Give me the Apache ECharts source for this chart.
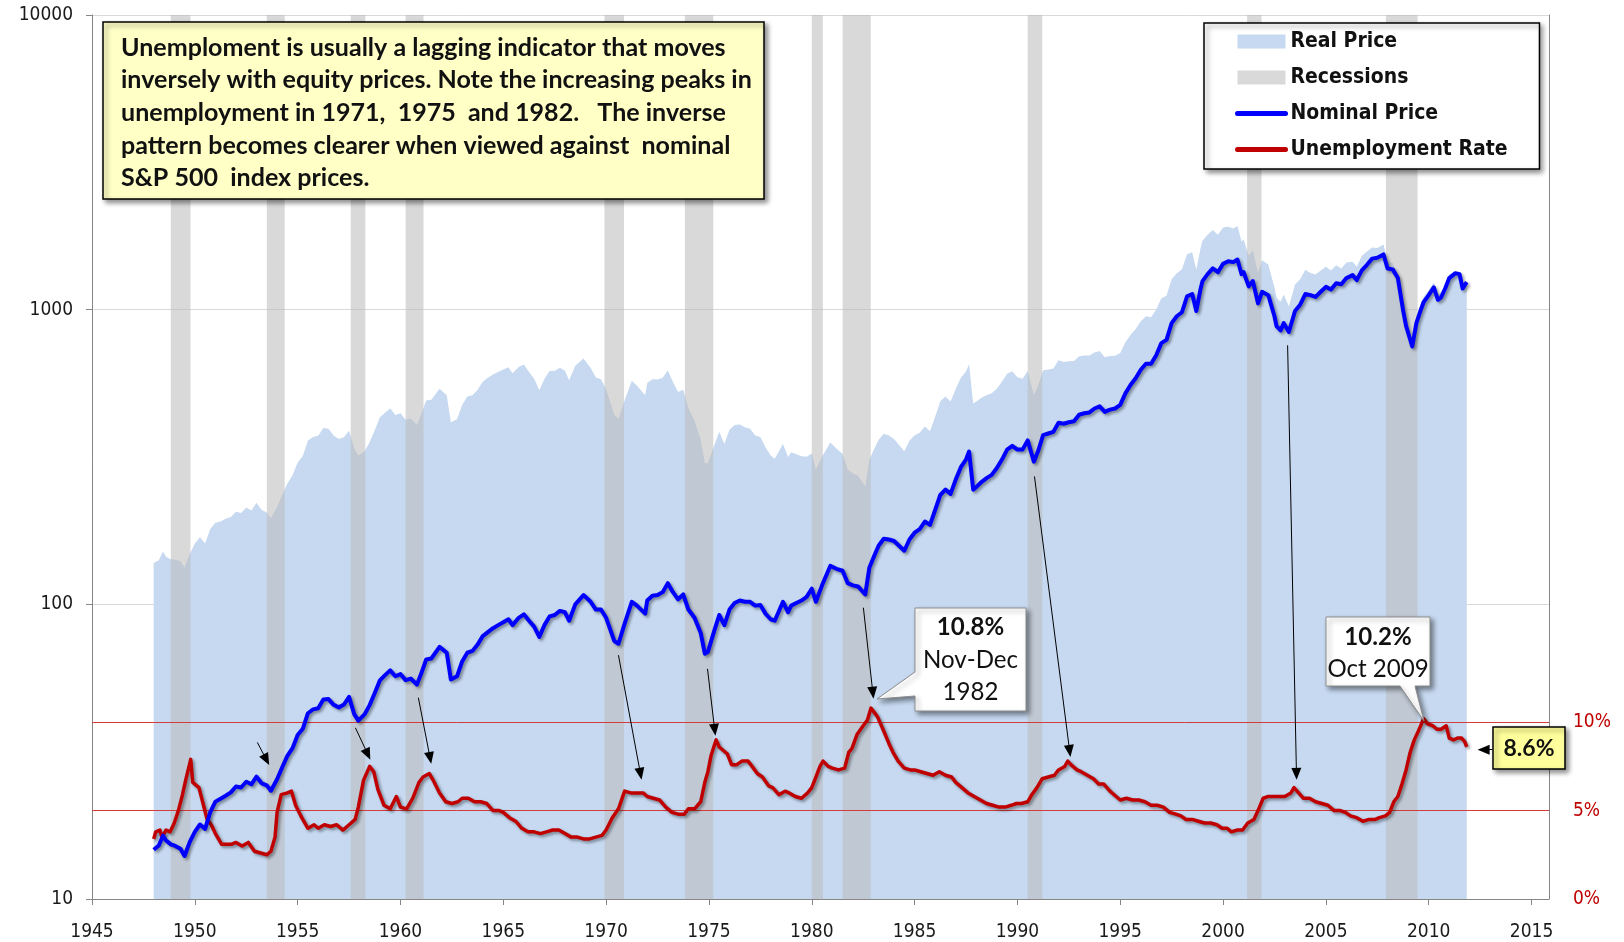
<!DOCTYPE html>
<html><head><meta charset="utf-8">
<script src="https://cdn.jsdelivr.net/npm/echarts@6/dist/echarts.min.js"></script>
<style>html,body{margin:0;padding:0;background:#fff}#c{width:1624px;height:942px}</style>
</head><body><div id="c"></div>
<script>
// ---------------- data ----------------
const xTickYears = [1945,1950,1955,1960,1965,1970,1975,1980,1985,1990,1995,2000,2005,2010,2015];
const unempTickValues = [0,5,10];
const unempGuideLines = [5,10];

const recessions = [[1948.83,1949.79],[1953.5,1954.37],[1957.58,1958.29],[1960.25,1961.12],[1969.92,1970.87],
  [1973.83,1975.21],[1980.0,1980.54],[1981.5,1982.87],[1990.5,1991.21],[2001.17,2001.87],[2007.92,2009.46]];

const nominalPrice = [[1948.0,14.7],[1948.25,15.2],[1948.45,16.4],[1948.6,15.8],[1948.85,15.3],[1949.0,15.2],[1949.3,14.8],[1949.5,14.0],[1949.75,15.6],[1950.0,16.9],[1950.25,17.9],[1950.5,17.3],[1950.75,19.7],[1951.0,21.4],[1951.25,21.9],[1951.5,22.4],[1951.75,23.0],[1952.0,24.1],[1952.25,23.9],[1952.5,25.0],[1952.75,24.5],[1953.0,26.0],[1953.25,24.7],[1953.5,24.3],[1953.7,23.3],[1954.0,25.5],[1954.25,28.0],[1954.5,30.6],[1954.75,32.5],[1955.0,36.0],[1955.25,37.8],[1955.5,42.7],[1955.75,44.0],[1956.0,44.4],[1956.25,47.5],[1956.5,47.7],[1956.75,45.6],[1957.0,44.7],[1957.25,45.7],[1957.5,48.5],[1957.75,42.4],[1957.95,40.3],[1958.25,42.3],[1958.5,45.5],[1958.75,50.0],[1959.0,55.2],[1959.25,57.5],[1959.5,59.7],[1959.75,57.0],[1960.0,58.0],[1960.25,55.3],[1960.5,56.0],[1960.8,53.4],[1961.0,58.0],[1961.25,65.0],[1961.5,65.5],[1961.9,71.7],[1962.25,68.5],[1962.45,55.6],[1962.75,57.0],[1963.0,64.0],[1963.25,68.5],[1963.5,69.5],[1963.75,73.0],[1964.0,78.0],[1964.25,80.5],[1964.5,83.0],[1964.75,85.0],[1965.0,87.0],[1965.25,89.0],[1965.45,85.0],[1965.75,90.0],[1966.0,92.5],[1966.25,88.0],[1966.5,84.0],[1966.75,77.5],[1967.0,85.0],[1967.25,91.0],[1967.5,92.0],[1967.75,95.0],[1968.0,94.0],[1968.2,88.0],[1968.5,100.0],[1968.9,107.5],[1969.25,102.0],[1969.5,96.0],[1969.75,96.0],[1970.0,90.0],[1970.4,75.0],[1970.6,73.5],[1970.9,86.0],[1971.25,102.0],[1971.5,99.0],[1971.9,93.0],[1972.0,103.0],[1972.25,107.0],[1972.5,107.5],[1972.75,110.0],[1973.0,118.0],[1973.25,110.0],[1973.5,104.0],[1973.75,108.0],[1974.0,96.0],[1974.3,90.0],[1974.6,80.0],[1974.8,68.0],[1974.95,69.0],[1975.25,81.0],[1975.5,92.0],[1975.75,85.0],[1976.0,96.0],[1976.25,101.0],[1976.5,103.0],[1976.75,102.0],[1977.0,102.0],[1977.25,99.0],[1977.5,99.5],[1977.75,93.0],[1978.0,89.0],[1978.2,88.0],[1978.6,102.0],[1978.85,94.0],[1979.0,99.0],[1979.25,101.0],[1979.5,103.0],[1979.75,106.0],[1980.0,113.0],[1980.2,102.0],[1980.5,116.0],[1980.9,135.0],[1981.2,132.0],[1981.5,130.0],[1981.75,118.0],[1982.0,116.0],[1982.25,115.0],[1982.6,108.0],[1982.8,133.0],[1983.0,144.0],[1983.25,158.0],[1983.5,167.0],[1983.75,166.0],[1984.0,164.0],[1984.5,152.0],[1984.75,166.0],[1985.0,175.0],[1985.25,180.0],[1985.5,191.0],[1985.75,186.0],[1986.0,209.0],[1986.25,235.0],[1986.5,245.0],[1986.75,237.0],[1987.0,265.0],[1987.25,292.0],[1987.5,310.0],[1987.65,330.0],[1987.85,245.0],[1988.0,250.0],[1988.25,260.0],[1988.5,268.0],[1988.75,275.0],[1989.0,290.0],[1989.25,310.0],[1989.5,335.0],[1989.75,345.0],[1990.0,335.0],[1990.25,335.0],[1990.5,360.0],[1990.8,305.0],[1991.0,330.0],[1991.25,375.0],[1991.5,380.0],[1991.75,385.0],[1992.0,413.0],[1992.25,410.0],[1992.5,415.0],[1992.75,418.0],[1993.0,440.0],[1993.25,445.0],[1993.5,448.0],[1993.75,462.0],[1994.0,470.0],[1994.25,450.0],[1994.5,458.0],[1994.75,462.0],[1995.0,475.0],[1995.25,520.0],[1995.5,555.0],[1995.75,585.0],[1996.0,625.0],[1996.25,655.0],[1996.5,655.0],[1996.75,700.0],[1997.0,770.0],[1997.25,790.0],[1997.5,900.0],[1997.75,950.0],[1998.0,980.0],[1998.25,1110],[1998.5,1130],[1998.7,990],[1998.9,1170],[1999.0,1250],[1999.25,1320],[1999.5,1380],[1999.75,1340],[2000.0,1430],[2000.25,1460],[2000.5,1450],[2000.7,1480],[2000.9,1320],[2001.0,1340],[2001.25,1200],[2001.45,1250],[2001.7,1050],[2001.9,1150],[2002.2,1120],[2002.5,950],[2002.6,880],[2002.8,850],[2002.95,900],[2003.2,840],[2003.5,990],[2003.75,1040],[2004.0,1130],[2004.25,1120],[2004.5,1105],[2004.75,1150],[2005.0,1195],[2005.25,1170],[2005.5,1230],[2005.75,1220],[2006.0,1280],[2006.3,1310],[2006.5,1260],[2006.75,1360],[2007.0,1420],[2007.25,1490],[2007.5,1500],[2007.8,1540],[2008.0,1380],[2008.25,1370],[2008.5,1280],[2008.75,1000],[2008.9,880],[2009.2,750],[2009.4,900],[2009.6,990],[2009.75,1060],[2010.0,1120],[2010.25,1190],[2010.45,1080],[2010.6,1100],[2010.8,1180],[2011.0,1280],[2011.3,1330],[2011.5,1320],[2011.65,1180],[2011.85,1240]];

const realPrice = [[1948.0,138],[1948.25,141],[1948.45,151],[1948.6,145],[1948.85,142],[1949.0,142],[1949.3,140],[1949.5,133],[1949.75,148],[1950.0,161],[1950.25,169],[1950.5,161],[1950.75,180],[1951.0,189],[1951.25,191],[1951.5,195],[1951.75,198],[1952.0,206],[1952.25,204],[1952.5,213],[1952.75,208],[1953.0,221],[1953.25,209],[1953.5,205],[1953.7,196],[1954.0,214],[1954.25,235],[1954.5,257],[1954.75,274],[1955.0,303],[1955.25,319],[1955.5,360],[1955.75,370],[1956.0,373],[1956.25,397],[1956.5,394],[1956.75,374],[1957.0,364],[1957.25,369],[1957.5,388],[1957.75,338],[1957.95,320],[1958.25,330],[1958.5,355],[1958.75,390],[1959.0,431],[1959.25,447],[1959.5,463],[1959.75,439],[1960.0,445],[1960.25,423],[1960.5,427],[1960.8,406],[1961.0,440],[1961.25,492],[1961.5,495],[1961.9,539],[1962.25,512],[1962.45,415],[1962.75,425],[1963.0,475],[1963.25,507],[1963.5,512],[1963.75,535],[1964.0,569],[1964.25,587],[1964.5,603],[1964.75,615],[1965.0,626],[1965.25,638],[1965.45,608],[1965.75,639],[1966.0,652],[1966.25,614],[1966.5,583],[1966.75,533],[1967.0,582],[1967.25,619],[1967.5,620],[1967.75,635],[1968.0,620],[1968.2,576],[1968.5,645],[1968.9,683],[1969.25,634],[1969.5,588],[1969.75,581],[1970.0,537],[1970.4,439],[1970.6,426],[1970.9,492],[1971.25,574],[1971.5,552],[1971.9,512],[1972.0,564],[1972.25,581],[1972.5,579],[1972.75,587],[1973.0,622],[1973.25,568],[1973.5,526],[1973.75,535],[1974.0,463],[1974.3,419],[1974.6,362],[1974.8,301],[1974.95,301],[1975.25,345],[1975.5,385],[1975.75,350],[1976.0,391],[1976.25,406],[1976.5,408],[1976.75,399],[1977.0,394],[1977.25,374],[1977.5,370],[1977.75,341],[1978.0,320],[1978.2,312],[1978.6,350],[1978.85,316],[1979.0,328],[1979.25,323],[1979.5,318],[1979.75,317],[1980.0,325],[1980.2,286],[1980.5,317],[1980.9,354],[1981.2,338],[1981.5,324],[1981.75,287],[1982.0,278],[1982.25,273],[1982.6,251],[1982.8,309],[1983.0,333],[1983.25,362],[1983.5,379],[1983.75,374],[1984.0,364],[1984.5,331],[1984.75,359],[1985.0,375],[1985.25,382],[1985.5,401],[1985.75,387],[1986.0,433],[1986.25,489],[1986.5,507],[1986.75,488],[1987.0,538],[1987.25,587],[1987.5,617],[1987.65,653],[1987.85,480],[1988.0,488],[1988.25,502],[1988.5,512],[1988.75,520],[1989.0,539],[1989.25,570],[1989.5,606],[1989.75,618],[1990.0,590],[1990.25,583],[1990.5,619],[1990.8,512],[1991.0,551],[1991.25,623],[1991.5,627],[1991.75,631],[1992.0,673],[1992.25,664],[1992.5,668],[1992.75,669],[1993.0,695],[1993.25,699],[1993.5,699],[1993.75,716],[1994.0,724],[1994.25,689],[1994.5,696],[1994.75,698],[1995.0,713],[1995.25,775],[1995.5,821],[1995.75,860],[1996.0,913],[1996.25,950],[1996.5,943],[1996.75,1001],[1997.0,1093],[1997.25,1114],[1997.5,1269],[1997.75,1330],[1998.0,1372],[1998.25,1543],[1998.5,1565],[1998.7,1366],[1998.9,1609],[1999.0,1713],[1999.25,1795],[1999.5,1863],[1999.75,1796],[2000.0,1902],[2000.25,1913],[2000.5,1885],[2000.7,1924],[2000.9,1703],[2001.0,1729],[2001.25,1524],[2001.45,1588],[2001.7,1334],[2001.9,1472],[2002.2,1422],[2002.5,1188],[2002.6,1100],[2002.8,1063],[2002.95,1125],[2003.2,1025],[2003.5,1218],[2003.75,1269],[2004.0,1367],[2004.25,1333],[2004.5,1315],[2004.75,1357],[2005.0,1398],[2005.25,1357],[2005.5,1415],[2005.75,1379],[2006.0,1446],[2006.3,1454],[2006.5,1399],[2006.75,1523],[2007.0,1576],[2007.25,1624],[2007.5,1620],[2007.8,1663],[2008.0,1463],[2008.25,1439],[2008.5,1318],[2008.75,1050],[2008.9,950],[2009.2,795],[2009.4,945],[2009.6,1040],[2009.75,1102],[2010.0,1165],[2010.25,1238],[2010.45,1123],[2010.6,1144],[2010.8,1215],[2011.0,1318],[2011.3,1343],[2011.5,1320],[2011.65,1180],[2011.85,1240]];

const unemploymentRate = [[1948.0,3.4],[1948.1,3.8],[1948.3,3.9],[1948.4,3.5],[1948.6,3.9],[1948.8,3.8],[1949.0,4.3],[1949.2,5.0],[1949.4,5.9],[1949.55,6.7],[1949.8,7.9],[1949.9,6.6],[1950.0,6.5],[1950.2,6.3],[1950.4,5.4],[1950.6,4.5],[1950.8,4.2],[1951.0,3.7],[1951.3,3.1],[1951.5,3.1],[1951.8,3.1],[1952.0,3.2],[1952.3,3.0],[1952.6,3.2],[1952.9,2.7],[1953.2,2.6],[1953.5,2.5],[1953.7,2.7],[1953.9,3.5],[1954.0,4.9],[1954.2,5.9],[1954.5,6.0],[1954.7,6.1],[1954.9,5.3],[1955.2,4.6],[1955.5,4.0],[1955.8,4.2],[1956.0,4.0],[1956.3,4.2],[1956.6,4.1],[1956.9,4.2],[1957.2,3.9],[1957.5,4.2],[1957.8,4.5],[1957.95,5.2],[1958.2,6.7],[1958.5,7.5],[1958.7,7.2],[1958.9,6.2],[1959.2,5.3],[1959.5,5.1],[1959.8,5.8],[1960.0,5.2],[1960.3,5.1],[1960.6,5.7],[1960.9,6.6],[1961.1,6.9],[1961.4,7.1],[1961.6,6.7],[1961.9,6.0],[1962.2,5.5],[1962.5,5.4],[1962.8,5.5],[1963.0,5.7],[1963.3,5.7],[1963.6,5.5],[1963.9,5.5],[1964.2,5.4],[1964.5,5.0],[1964.8,5.0],[1965.0,4.9],[1965.3,4.6],[1965.6,4.4],[1965.9,4.0],[1966.2,3.8],[1966.5,3.8],[1966.8,3.7],[1967.1,3.8],[1967.4,3.9],[1967.7,3.9],[1968.0,3.7],[1968.3,3.5],[1968.6,3.5],[1968.9,3.4],[1969.2,3.4],[1969.5,3.5],[1969.8,3.6],[1970.0,3.9],[1970.3,4.6],[1970.6,5.1],[1970.9,6.1],[1971.2,6.0],[1971.5,6.0],[1971.8,6.0],[1972.0,5.8],[1972.3,5.7],[1972.6,5.6],[1972.9,5.2],[1973.2,4.9],[1973.5,4.8],[1973.8,4.8],[1974.0,5.1],[1974.3,5.1],[1974.6,5.5],[1974.8,6.6],[1974.95,7.2],[1975.1,8.1],[1975.35,9.0],[1975.5,8.6],[1975.7,8.4],[1975.9,8.2],[1976.1,7.6],[1976.35,7.6],[1976.6,7.8],[1976.9,7.8],[1977.1,7.5],[1977.35,7.1],[1977.6,6.9],[1977.9,6.4],[1978.1,6.3],[1978.4,5.9],[1978.7,6.1],[1978.9,6.0],[1979.2,5.8],[1979.5,5.7],[1979.8,6.0],[1980.0,6.3],[1980.2,6.9],[1980.4,7.5],[1980.55,7.8],[1980.8,7.5],[1981.0,7.4],[1981.3,7.3],[1981.6,7.4],[1981.8,8.3],[1981.95,8.5],[1982.2,9.3],[1982.5,9.8],[1982.7,10.1],[1982.88,10.8],[1982.95,10.8],[1983.2,10.3],[1983.5,9.5],[1983.75,8.8],[1983.95,8.3],[1984.2,7.8],[1984.5,7.4],[1984.8,7.3],[1985.0,7.3],[1985.3,7.2],[1985.6,7.1],[1985.9,7.0],[1986.2,7.2],[1986.5,7.0],[1986.8,6.9],[1987.0,6.6],[1987.3,6.3],[1987.6,6.0],[1987.9,5.8],[1988.2,5.6],[1988.5,5.4],[1988.8,5.3],[1989.1,5.2],[1989.4,5.2],[1989.7,5.3],[1989.95,5.4],[1990.2,5.4],[1990.5,5.5],[1990.7,5.9],[1990.95,6.3],[1991.2,6.8],[1991.5,6.9],[1991.8,7.0],[1992.0,7.3],[1992.3,7.5],[1992.45,7.8],[1992.6,7.6],[1992.9,7.3],[1993.1,7.2],[1993.4,7.0],[1993.7,6.8],[1993.95,6.5],[1994.2,6.5],[1994.5,6.1],[1994.8,5.8],[1995.0,5.6],[1995.3,5.7],[1995.6,5.6],[1995.9,5.6],[1996.2,5.5],[1996.5,5.3],[1996.8,5.3],[1997.1,5.2],[1997.4,4.9],[1997.7,4.8],[1997.95,4.7],[1998.2,4.5],[1998.5,4.5],[1998.8,4.4],[1999.1,4.3],[1999.4,4.3],[1999.7,4.2],[1999.95,4.0],[2000.2,4.0],[2000.4,3.8],[2000.7,3.9],[2000.95,3.9],[2001.2,4.3],[2001.5,4.5],[2001.7,5.0],[2001.95,5.7],[2002.2,5.8],[2002.5,5.8],[2002.8,5.8],[2003.0,5.8],[2003.3,6.0],[2003.45,6.3],[2003.6,6.1],[2003.9,5.7],[2004.2,5.7],[2004.5,5.5],[2004.8,5.4],[2005.1,5.3],[2005.4,5.0],[2005.7,5.0],[2005.95,4.9],[2006.2,4.7],[2006.5,4.6],[2006.8,4.4],[2007.1,4.5],[2007.4,4.5],[2007.6,4.6],[2007.9,4.7],[2008.1,4.9],[2008.3,5.5],[2008.5,5.8],[2008.7,6.5],[2008.9,7.3],[2009.1,8.3],[2009.3,9.0],[2009.5,9.5],[2009.75,10.2],[2009.95,9.9],[2010.2,9.8],[2010.4,9.6],[2010.6,9.6],[2010.85,9.8],[2011.0,9.1],[2011.2,9.0],[2011.4,9.1],[2011.6,9.1],[2011.75,8.9],[2011.85,8.6]];

// arrows: [fromYear, fromPrice, toYear, toPrice] on the price (log) axis
const arrowPairs = [[1953.04,34.0,1953.48,29.7],[1957.81,38.1,1958.41,31.0],[1960.87,48.2,1961.44,30.1],
  [1970.60,67.2,1971.67,26.6],[1974.93,60.4,1975.28,37.5],[1982.51,97.4,1982.97,50.1],
  [1990.83,271.6,1992.54,31.8],[2003.14,756.8,2003.57,26.6],[2013.10,32.1,2012.67,32.1]];

const noteLines = ['Unemploment is usually a lagging indicator that moves',
  'inversely with equity prices. Note the increasing peaks in',
  'unemployment in 1971,  1975  and 1982.   The inverse',
  'pattern becomes clearer when viewed against  nominal',
  'S&P 500  index prices.'];
const callout1982 = ['10.8%','Nov-Dec','1982'];
const callout2009 = ['10.2%','Oct 2009'];
const lastRateLabel = '8.6%';

// ---------------- helpers ----------------
const mctx = document.createElement('canvas').getContext('2d');
function fitSize(text, weight, family, target){ mctx.font = weight+' 100px '+family; return 100*target/mctx.measureText(text).width; }
const AXF = '"DejaVu Sans Condensed","DejaVu Sans",sans-serif';
const noteSize = fitSize(noteLines[0],'bold','Lato',605);
const legendSize = fitSize('Unemployment Rate','bold','"DejaVu Sans Condensed"',217);
const calloutSize = fitSize('Nov-Dec','normal','Lato',95);
const shadow = {shadowBlur:5, shadowOffsetX:3, shadowOffsetY:3, shadowColor:'rgba(0,0,0,0.45)'};
const lineShadow = {shadowBlur:3, shadowOffsetX:2, shadowOffsetY:2, shadowColor:'rgba(0,0,0,0.4)'};

const chart = echarts.init(document.getElementById('c'), null, {renderer:'canvas'});
const option = {
  animation:false,
  grid:{left:92, right:75, top:15, bottom:42},
  legend:{
    orient:'vertical', left:1204, top:23, selectedMode:false,
    padding:[8,32,9,31], itemGap:15, itemWidth:48, itemHeight:14,
    backgroundColor:'#fff', borderColor:'#000', borderWidth:1.5, ...shadow,
    textStyle:{fontFamily:'"DejaVu Sans Condensed"', fontWeight:'bold', fontSize:legendSize, color:'#111', lineHeight:20},
    lineStyle:{width:5, cap:'round'},
    data:[{name:'Real Price', icon:'rect'},{name:'Recessions', icon:'rect'},
      {name:'Nominal Price', itemStyle:{opacity:0}},{name:'Unemployment Rate', itemStyle:{opacity:0}}]
  },
  xAxis:{type:'value', min:1945, max:2015.85, interval:5,
    axisLine:{lineStyle:{color:'#868686'}},
    axisTick:{length:6, lineStyle:{color:'#868686'}, customValues:xTickYears},
    axisLabel:{customValues:xTickYears, margin:24, fontSize:19, fontFamily:AXF, color:'#1a1a1a',
      formatter:v=> (Math.abs(v%5)<1e-6 ? String(Math.round(v)) : '')},
    splitLine:{show:false}},
  yAxis:[
    {type:'log', logBase:10, min:10, max:10000,
      axisLine:{show:true, lineStyle:{color:'#868686'}},
      axisTick:{show:true, length:6, lineStyle:{color:'#868686'}},
      axisLabel:{margin:19, fontSize:19, fontFamily:AXF, color:'#1a1a1a', formatter:v=>String(Math.round(v))},
      splitLine:{show:true, lineStyle:{color:'#D9D9D9', width:1}}, minorSplitLine:{show:false}},
    {type:'value', min:0, max:50, interval:5, position:'right',
      axisLine:{show:true, lineStyle:{color:'#868686'}},
      axisTick:{show:false}, splitLine:{show:false},
      axisLabel:{customValues:unempTickValues, margin:24, fontSize:19, fontFamily:AXF, color:'#C00000',
        formatter:v=> (v<=10 ? v+'%' : '')}}
  ],
  series:[
    {name:'Real Price', type:'line', yAxisIndex:0, z:2, data:realPrice, symbol:'none',
      lineStyle:{width:0}, itemStyle:{color:'#C6D9F1'},
      areaStyle:{color:'#C6D9F1', opacity:1, origin:'start'}},
    {name:'Recessions', type:'custom', yAxisIndex:0, z:3, data:recessions,
      encode:{x:[0,1]}, itemStyle:{color:'rgba(185,185,185,0.55)'},
      renderItem:(params, api)=>{
        const p0 = api.coord([api.value(0), 100]);
        const p1 = api.coord([api.value(1), 100]);
        const cs = params.coordSys;
        return {type:'rect', shape:{x:p0[0], y:cs.y, width:p1[0]-p0[0], height:cs.height},
          style:{fill:api.visual('color')}};
      }},
    {name:'Unemployment Rate', type:'line', yAxisIndex:1, z:5, data:unemploymentRate, symbol:'none',
      lineStyle:{color:'#C00000', width:3.5, join:'round', ...lineShadow},
      itemStyle:{color:'#C00000'},
      markLine:{silent:true, symbol:'none', z:4, label:{show:false},
        lineStyle:{color:'#D23C3C', width:1, type:'solid'},
        data:unempGuideLines.map(v=>({yAxis:v}))}},
    {name:'Nominal Price', type:'line', yAxisIndex:0, z:6, data:nominalPrice, symbol:'none',
      lineStyle:{color:'#0000FF', width:4, join:'round', ...lineShadow},
      itemStyle:{color:'#0000FF'},
      markLine:{silent:true, z:8, symbol:['none','triangle'], symbolSize:[10,12], label:{show:false},
        lineStyle:{color:'#000', width:1, type:'solid'}, emphasis:{disabled:true},
        data:arrowPairs.map(a=>[{coord:[a[0],a[1]]},{coord:[a[2],a[3]]}])}}
  ],
  graphic:[
    {type:'rect', z:100, shape:{x:103, y:22, width:661, height:177},
      style:{fill:'#FFFFC6', stroke:'#000', lineWidth:1.5, ...shadow}},
    {type:'text', z:101, x:121, y:31.5,
      style:{text:noteLines.join('\n'), font:'bold '+noteSize.toFixed(2)+'px Lato', lineHeight:32.6, fill:'#111', verticalAlign:'top'}},
    {type:'polygon', z:100, shape:{points:[[915,608],[1026,608],[1026,711],[915,711],[915,696],[877,699],[915,672]]},
      style:{fill:'#fff', stroke:'#8c8c8c', lineWidth:1, ...shadow}},
    {type:'text', z:101, x:970.5, y:627, style:{text:callout1982[0], font:'bold '+calloutSize.toFixed(2)+'px Lato', fill:'#111', align:'center', verticalAlign:'middle'}},
    {type:'text', z:101, x:970.5, y:660, style:{text:callout1982[1], font:calloutSize.toFixed(2)+'px Lato', fill:'#111', align:'center', verticalAlign:'middle'}},
    {type:'text', z:101, x:970.5, y:692, style:{text:callout1982[2], font:calloutSize.toFixed(2)+'px Lato', fill:'#111', align:'center', verticalAlign:'middle'}},
    {type:'polygon', z:100, shape:{points:[[1326,617],[1430,617],[1430,686],[1415,686],[1424,721],[1400,686],[1326,686]]},
      style:{fill:'#fff', stroke:'#8c8c8c', lineWidth:1, ...shadow}},
    {type:'text', z:101, x:1378, y:637, style:{text:callout2009[0], font:'bold '+calloutSize.toFixed(2)+'px Lato', fill:'#111', align:'center', verticalAlign:'middle'}},
    {type:'text', z:101, x:1378, y:669, style:{text:callout2009[1], font:calloutSize.toFixed(2)+'px Lato', fill:'#111', align:'center', verticalAlign:'middle'}},
    {type:'rect', z:100, shape:{x:1493, y:727, width:72, height:42},
      style:{fill:'#FFFF9C', stroke:'#000', lineWidth:1.5, ...shadow}},
    {type:'text', z:101, x:1529, y:748.5, style:{text:lastRateLabel, font:'bold 23px Lato', fill:'#111', align:'center', verticalAlign:'middle'}}
  ]
};
chart.setOption(option);
</script></body></html>
